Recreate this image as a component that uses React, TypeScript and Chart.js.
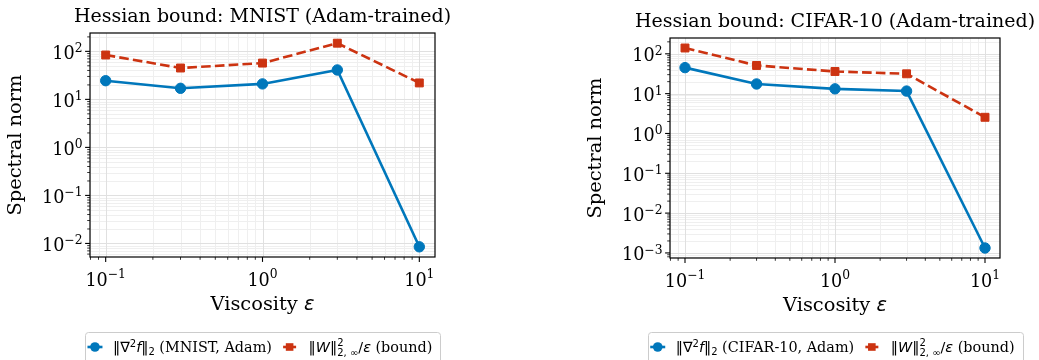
import React, { useEffect, useRef } from 'react';
import { Chart, registerables } from 'chart.js';

Chart.register(...registerables);

// Viscosity values (x) and the measured spectral norms (y)
const EPSILON = [0.1, 0.3, 1, 3, 10];
const MNIST_HESSIAN = [24.5, 17, 21, 41, 0.0085];
const MNIST_BOUND = [84, 45, 57, 148, 22];
const CIFAR_HESSIAN = [45, 17.5, 13.2, 11.6, 0.00133];
const CIFAR_BOUND = [140, 51, 36, 31.5, 2.55];

// Decade exponents that get a labelled major tick
const X_EXPONENTS = [-1, 0, 1];
const MNIST_Y_EXPONENTS = [-2, -1, 0, 1, 2];
const CIFAR_Y_EXPONENTS = [-3, -2, -1, 0, 1, 2];

const BLUE = '#0077BB';
const RED = '#CC3311';
const SERIF = '"DejaVu Serif", "Liberation Serif", serif';
const SANS = '"DejaVu Sans", "Liberation Sans", sans-serif';
const SANS_IT = (px: number) => `italic ${px}px ${SANS}`;
const SERIF_PX = (px: number) => `${px}px ${SERIF}`;
const SANS_PX = (px: number) => `${px}px ${SANS}`;

const TITLE_PX = 19;
const LABEL_PX = 19.4;
const TICK_PX = 17.6;
const TICK_SUP_PX = 12.3;
const LEGEND_PX = 14.4;
const LEGEND_SMALL_PX = 10;

type Seg = { t: string; f: string; dy?: number; adv?: number };

function segWidth(ctx: CanvasRenderingContext2D, s: Seg) {
  if (s.adv !== undefined) return s.adv;
  ctx.font = s.f;
  return ctx.measureText(s.t).width;
}

function richWidth(ctx: CanvasRenderingContext2D, segs: Seg[]) {
  return segs.reduce((w, s) => w + segWidth(ctx, s), 0);
}

function drawRich(ctx: CanvasRenderingContext2D, segs: Seg[], x: number, y: number) {
  let cx = x;
  for (const s of segs) {
    ctx.font = s.f;
    ctx.fillText(s.t, cx, y + (s.dy || 0));
    cx += segWidth(ctx, s);
  }
  return cx;
}

// Axis limits: data span in log space plus a 5% margin on both ends
function logRange(values: number[]): [number, number] {
  const logs = values.map((v) => Math.log10(v));
  const lo = Math.min(...logs);
  const hi = Math.max(...logs);
  const pad = (hi - lo) * 0.05;
  return [10 ** (lo - pad), 10 ** (hi + pad)];
}

function powerLabel(e: number, dy: number): Seg[] {
  const exp = e < 0 ? '\u2212' + String(-e) : String(e);
  return [
    { t: '10', f: SERIF_PX(TICK_PX) },
    { t: exp, f: SERIF_PX(TICK_SUP_PX), dy },
  ];
}

function minorValues(min: number, max: number) {
  const out: number[] = [];
  for (let d = Math.floor(Math.log10(min)) - 1; d <= Math.ceil(Math.log10(max)); d++) {
    for (let m = 2; m <= 9; m++) {
      const v = m * 10 ** d;
      if (v >= min && v <= max) out.push(v);
    }
  }
  return out;
}

type PanelProps = {
  title: string;
  dataName: string;
  hessian: number[];
  bound: number[];
  yExponents: number[];
  width: number;
  padding: { left: number; right: number; top: number; bottom: number };
};

function Panel({ title, dataName, hessian, bound, yExponents, width, padding }: PanelProps) {
  const ref = useRef<HTMLCanvasElement | null>(null);

  useEffect(() => {
    const canvas = ref.current;
    if (!canvas) return;
    const [xMin, xMax] = logRange(EPSILON);
    const [yMin, yMax] = logRange([...hessian, ...bound]);

    const decor = {
      id: 'mplDecor',
      beforeDatasetsDraw(chart: any) {
        const { ctx, chartArea } = chart;
        const { left, right, top, bottom } = chartArea;
        const xs = chart.scales.x;
        const ys = chart.scales.y;
        ctx.save();
        ctx.fillStyle = '#ffffff';
        ctx.fillRect(left, top, right - left, bottom - top);
        // minor grid
        ctx.strokeStyle = '#efefef';
        ctx.lineWidth = 1;
        for (const v of minorValues(xMin, xMax)) {
          const p = Math.round(xs.getPixelForValue(v)) + 0.5;
          ctx.beginPath();
          ctx.moveTo(p, top);
          ctx.lineTo(p, bottom);
          ctx.stroke();
        }
        for (const v of minorValues(yMin, yMax)) {
          const p = Math.round(ys.getPixelForValue(v)) + 0.5;
          ctx.beginPath();
          ctx.moveTo(left, p);
          ctx.lineTo(right, p);
          ctx.stroke();
        }
        // major grid
        ctx.strokeStyle = '#e0e0e0';
        for (const e of X_EXPONENTS) {
          const p = Math.round(xs.getPixelForValue(10 ** e)) + 0.5;
          ctx.beginPath();
          ctx.moveTo(p, top);
          ctx.lineTo(p, bottom);
          ctx.stroke();
        }
        for (const e of yExponents) {
          const p = Math.round(ys.getPixelForValue(10 ** e)) + 0.5;
          ctx.beginPath();
          ctx.moveTo(left, p);
          ctx.lineTo(right, p);
          ctx.stroke();
        }
        ctx.restore();
      },
      afterDatasetsDraw(chart: any) {
        const { ctx, chartArea } = chart;
        const { left, right, top, bottom } = chartArea;
        const xs = chart.scales.x;
        const ys = chart.scales.y;
        const cx = (left + right) / 2;
        const cy = (top + bottom) / 2;
        ctx.save();
        // spines
        ctx.strokeStyle = '#000000';
        ctx.lineWidth = 1.2;
        ctx.strokeRect(left, top, right - left, bottom - top);

        // tick marks
        ctx.lineWidth = 0.8;
        for (const v of minorValues(xMin, xMax)) {
          const p = xs.getPixelForValue(v);
          ctx.beginPath();
          ctx.moveTo(p, bottom);
          ctx.lineTo(p, bottom + 2.8);
          ctx.stroke();
        }
        for (const v of minorValues(yMin, yMax)) {
          const p = ys.getPixelForValue(v);
          ctx.beginPath();
          ctx.moveTo(left, p);
          ctx.lineTo(left - 2.8, p);
          ctx.stroke();
        }
        ctx.lineWidth = 1.1;
        for (const e of X_EXPONENTS) {
          const p = xs.getPixelForValue(10 ** e);
          ctx.beginPath();
          ctx.moveTo(p, bottom);
          ctx.lineTo(p, bottom + 4.9);
          ctx.stroke();
        }
        for (const e of yExponents) {
          const p = ys.getPixelForValue(10 ** e);
          ctx.beginPath();
          ctx.moveTo(left, p);
          ctx.lineTo(left - 4.9, p);
          ctx.stroke();
        }

        // tick labels
        ctx.fillStyle = '#000000';
        ctx.textBaseline = 'alphabetic';
        ctx.textAlign = 'left';
        for (const e of X_EXPONENTS) {
          const p = xs.getPixelForValue(10 ** e);
          const segs = powerLabel(e, -7.5);
          const w = richWidth(ctx, segs);
          drawRich(ctx, segs, p - w / 2, bottom + 28.5);
        }
        for (const e of yExponents) {
          const p = ys.getPixelForValue(10 ** e);
          const segs = powerLabel(e, -6.5);
          const w = richWidth(ctx, segs);
          drawRich(ctx, segs, left - 7.5 - w, p + 7.4);
        }

        // title
        ctx.font = SERIF_PX(TITLE_PX);
        ctx.textAlign = 'center';
        ctx.fillText(title, cx, top - 11.5);

        // x axis label
        const xl: Seg[] = [
          { t: 'Viscosity ', f: SERIF_PX(LABEL_PX) },
          { t: '\u03b5', f: SANS_IT(LABEL_PX) },
        ];
        ctx.textAlign = 'left';
        const xw = richWidth(ctx, xl);
        drawRich(ctx, xl, cx - xw / 2, bottom + 53);

        // y axis label
        ctx.save();
        ctx.translate(left - 69, cy);
        ctx.rotate(-Math.PI / 2);
        ctx.font = SERIF_PX(LABEL_PX);
        ctx.textAlign = 'center';
        ctx.fillText('Spectral norm', 0, 0);
        ctx.restore();

        // legend
        const fs = LEGEND_PX;
        const small = LEGEND_SMALL_PX;
        const item1: Seg[] = [
          { t: '\u2016\u2207', f: SANS_PX(fs) },
          { t: '2', f: SANS_PX(small), dy: -5.5 },
          { t: 'f', f: SANS_IT(fs) },
          { t: '\u2016', f: SANS_PX(fs) },
          { t: '2', f: SANS_PX(small), dy: 3 },
          { t: ` (${dataName}, Adam)`, f: SERIF_PX(fs) },
        ];
        ctx.font = SANS_PX(small);
        const subW = ctx.measureText('2, \u221e').width;
        const item2: Seg[] = [
          { t: '\u2016', f: SANS_PX(fs) },
          { t: 'W', f: SANS_IT(fs) },
          { t: '\u2016', f: SANS_PX(fs) },
          { t: '2', f: SANS_PX(small), dy: -6, adv: 0 },
          { t: '2, \u221e', f: SANS_PX(small), dy: 3.5, adv: subW },
          { t: '/', f: SANS_PX(fs) },
          { t: '\u03b5', f: SANS_IT(fs) },
          { t: ' (bound)', f: SERIF_PX(fs) },
        ];
        const w1 = richWidth(ctx, item1);
        const w2 = richWidth(ctx, item2);
        const handleToText = 18;
        const textToHandle = 17.7;
        const padL = 10;
        const padR = 7.7;
        const boxW = padL + handleToText + w1 + textToHandle + handleToText + 1 + w2 + padR;
        const boxX = cx - boxW / 2;
        const boxY = 332;
        const baseY = 352;
        const midY = 347;

        ctx.fillStyle = 'rgba(255,255,255,0.8)';
        ctx.strokeStyle = '#cccccc';
        ctx.lineWidth = 1;
        ctx.beginPath();
        ctx.roundRect(Math.round(boxX) + 0.5, boxY + 0.5, Math.round(boxW), 40, 3);
        ctx.fill();
        ctx.stroke();

        const h1 = boxX + padL;
        ctx.strokeStyle = BLUE;
        ctx.fillStyle = BLUE;
        ctx.lineWidth = 2.6;
        ctx.beginPath();
        ctx.moveTo(h1 - 7.5, midY);
        ctx.lineTo(h1 + 7.5, midY);
        ctx.stroke();
        ctx.beginPath();
        ctx.arc(h1, midY, 4.8, 0, Math.PI * 2);
        ctx.fill();

        ctx.fillStyle = '#000000';
        ctx.textAlign = 'left';
        const end1 = drawRich(ctx, item1, h1 + handleToText, baseY);

        const h2 = end1 + textToHandle;
        ctx.strokeStyle = RED;
        ctx.fillStyle = RED;
        ctx.beginPath();
        ctx.moveTo(h2 - 6.5, midY);
        ctx.lineTo(h2 + 6.5, midY);
        ctx.stroke();
        ctx.fillRect(h2 - 3.8, midY - 3.8, 7.6, 7.6);

        ctx.fillStyle = '#000000';
        drawRich(ctx, item2, h2 + handleToText + 1, baseY);
        ctx.restore();
      },
    };

    const chart = new Chart(canvas, {
      type: 'line',
      data: {
        datasets: [
          {
            label: `Hessian (${dataName}, Adam)`,
            data: EPSILON.map((x, i) => ({ x, y: hessian[i] })),
            borderColor: BLUE,
            backgroundColor: BLUE,
            borderWidth: 2.6,
            pointStyle: 'circle',
            pointRadius: 5.2,
            pointBorderWidth: 1,
            tension: 0,
            order: 1,
          },
          {
            label: 'bound',
            data: EPSILON.map((x, i) => ({ x, y: bound[i] })),
            borderColor: RED,
            backgroundColor: RED,
            borderWidth: 2.6,
            borderDash: [9.6, 4.2],
            pointStyle: 'rect',
            pointRadius: 5.6,
            pointBorderWidth: 1,
            tension: 0,
            order: 0,
          },
        ],
      },
      options: {
        responsive: false,
        animation: false,
        devicePixelRatio: 1,
        layout: { padding },
        scales: {
          x: { type: 'logarithmic', min: xMin, max: xMax, display: false },
          y: { type: 'logarithmic', min: yMin, max: yMax, display: false },
        },
        plugins: {
          legend: { display: false },
          title: { display: false },
          tooltip: { enabled: false },
        },
      },
      plugins: [decor],
    } as any);

    return () => chart.destroy();
  }, [title, dataName, hessian, bound, yExponents, padding]);

  return <canvas ref={ref} width={width} height={360} style={{ display: 'block', width, height: 360 }} />;
}

const LEFT_PADDING = { left: 90, right: 85, top: 33, bottom: 103 };
const RIGHT_PADDING = { left: 150, right: 39, top: 38, bottom: 102 };

export default function App() {
  return (
    <div
      style={{
        position: 'fixed',
        left: 0,
        top: 0,
        width: 1039,
        height: 360,
        background: '#ffffff',
        display: 'flex',
        overflow: 'hidden',
      }}
    >
      <Panel
        title="Hessian bound: MNIST (Adam-trained)"
        dataName="MNIST"
        hessian={MNIST_HESSIAN}
        bound={MNIST_BOUND}
        yExponents={MNIST_Y_EXPONENTS}
        width={520}
        padding={LEFT_PADDING}
      />
      <Panel
        title="Hessian bound: CIFAR-10 (Adam-trained)"
        dataName="CIFAR-10"
        hessian={CIFAR_HESSIAN}
        bound={CIFAR_BOUND}
        yExponents={CIFAR_Y_EXPONENTS}
        width={519}
        padding={RIGHT_PADDING}
      />
    </div>
  );
}
